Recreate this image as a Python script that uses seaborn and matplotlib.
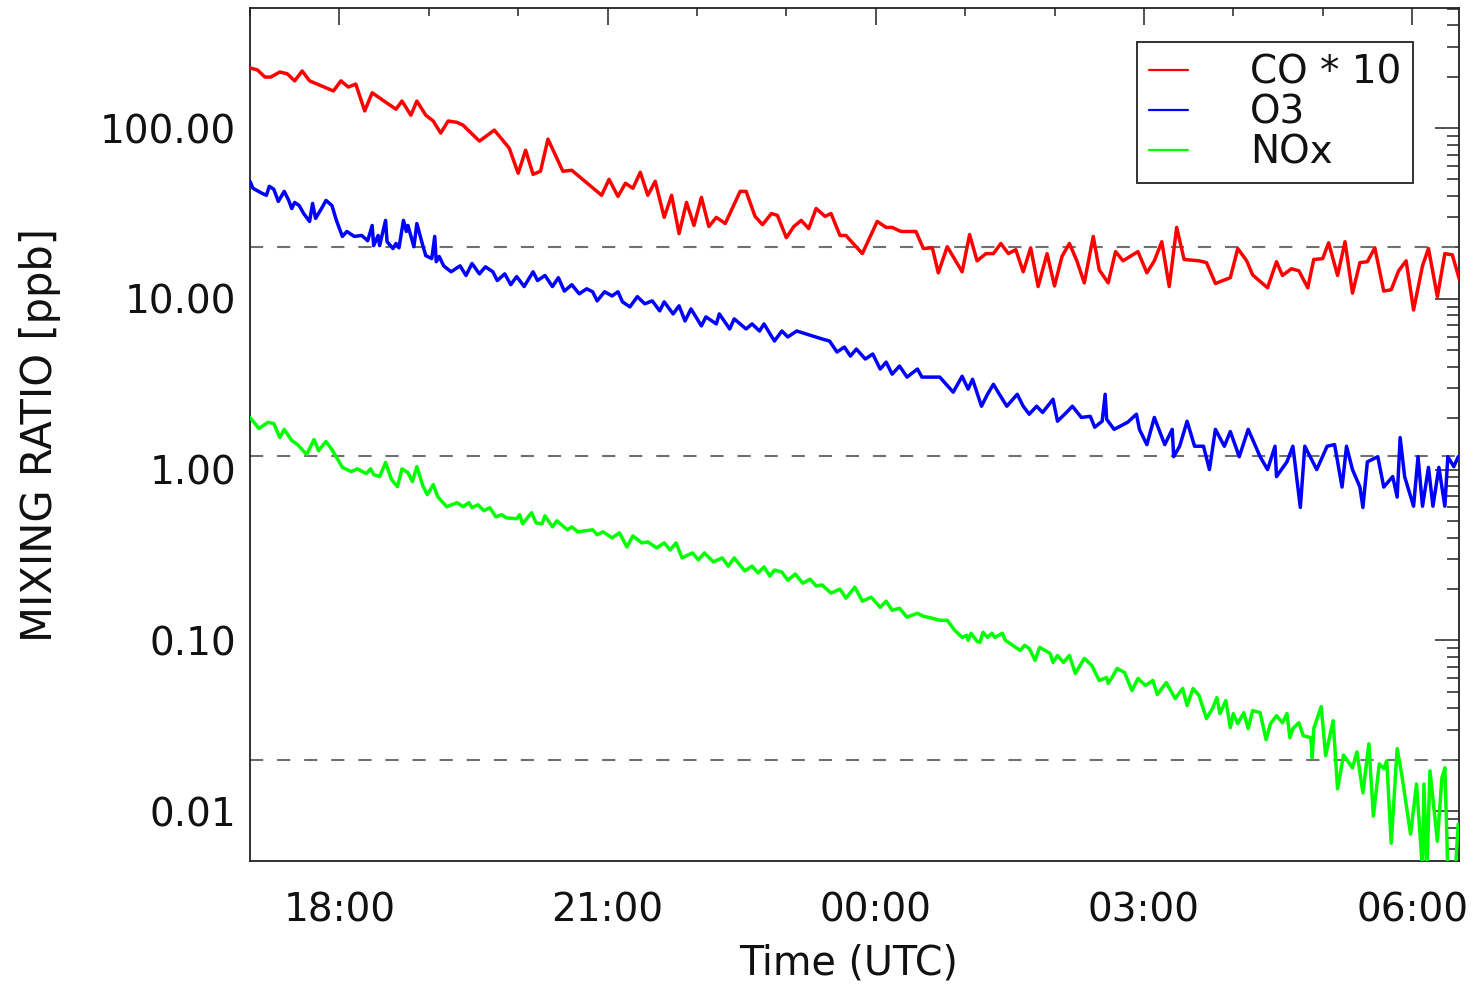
import numpy as np
import pandas as pd
import matplotlib
matplotlib.use("Agg")
import matplotlib.pyplot as plt
import matplotlib.dates as mdates
import matplotlib.ticker as mticker
from matplotlib.lines import Line2D
import seaborn as sns

# ---------------- data (minutes after 17:00 UTC, mixing ratio in ppb) ----------------
co_minutes = [0, 5, 10, 14, 20, 25, 30, 35, 40, 56,
              61, 66, 71, 77, 82, 87, 92, 98, 102, 108,
              112, 118, 123, 128, 133, 139, 143, 154, 164, 174,
              180, 185, 190, 195, 200, 210, 216, 236, 241, 247,
              252, 257, 262, 267, 272, 278, 283, 288, 293, 298,
              303, 308, 313, 319, 329, 333, 339, 344, 350, 354,
              360, 365, 370, 375, 380, 386, 390, 396, 400, 411,
              421, 427, 431, 437, 447, 452, 458, 462, 468, 478,
              483, 488, 494, 499, 504, 509, 514, 519, 524, 529,
              535, 540, 545, 550, 555, 560, 566, 570, 576, 581,
              586, 596, 602, 607, 612, 617, 622, 627, 637, 642,
              648, 658, 663, 669, 673, 683, 689, 693, 699, 704,
              710, 714, 720, 724, 730, 735, 740, 745, 750, 755,
              761, 766, 771, 776, 781, 787, 791, 797, 802, 807, 812]
co_x10 = [225, 219, 199, 199, 213, 208, 189, 216, 189, 165,
          189, 174, 181, 126, 161, 150, 140, 129, 144, 119,
          144, 119, 110, 93.5, 110, 108, 104, 83.9, 97.3, 76.3,
          54.4, 74.2, 53.6, 55.9, 86.2, 55.9, 56.6, 40.4, 50.1, 39.8,
          47.5, 44.4, 55.1, 40.4, 48.8, 30.0, 40.4, 24.1, 36.7, 26.9,
          39.3, 26.5, 30.0, 27.6, 42.6, 42.6, 30.4, 27.2, 31.6, 30.8,
          22.8, 26.5, 28.8, 25.8, 33.8, 30.4, 31.6, 23.5, 23.5, 18.4,
          28.4, 26.2, 26.2, 24.8, 24.8, 19.7, 19.9, 14.2, 20.2, 14.4,
          23.8, 16.7, 18.4, 18.4, 21.1, 18.4, 19.4, 14.4, 19.9, 11.8,
          18.4, 11.9, 17.7, 21.1, 16.7, 12.4, 23.2, 14.8, 12.4, 18.9,
          16.7, 18.9, 14.2, 16.7, 21.6, 11.8, 26.2, 17.0, 16.7, 16.3,
          12.3, 13.3, 19.7, 16.7, 13.8, 11.6, 16.5, 13.7, 15.0, 14.6,
          11.6, 17.0, 17.2, 21.3, 13.7, 21.6, 10.8, 16.3, 16.5, 19.9,
          11.1, 11.3, 14.6, 16.7, 8.6, 15.6, 19.7, 10.3, 18.4, 18.1, 12.8]

o3_minutes = [0, 2, 8, 11, 13, 16, 19, 23, 26, 28,
              30, 33, 36, 40, 42, 44, 48, 51, 55, 58,
              62, 65, 70, 75, 79, 82, 83, 86, 87, 91,
              92, 96, 98, 100, 103, 105, 106, 110, 112, 116,
              118, 122, 124, 125, 127, 130, 135, 141, 145, 149,
              154, 158, 163, 166, 171, 175, 179, 184, 190, 193,
              198, 203, 207, 211, 216, 221, 226, 230, 233, 238,
              243, 247, 250, 255, 260, 265, 270, 275, 278, 284,
              288, 292, 296, 303, 306, 313, 315, 322, 325, 333,
              337, 342, 345, 352, 357, 361, 367, 384, 389, 394,
              399, 403, 407, 413, 418, 423, 427, 431, 436, 441,
              448, 451, 463, 472, 478, 482, 485, 491, 495, 499,
              503, 508, 515, 519, 523, 528, 532, 539, 542, 548,
              552, 558, 564, 567, 572, 574, 575, 580, 589, 595,
              597, 602, 607, 614, 619, 620, 624, 629, 634, 640,
              644, 648, 654, 658, 664, 670, 678, 683, 688, 689,
              696, 700, 705, 708, 716, 723, 728, 733, 736, 740,
              745, 747, 750, 757, 761, 767, 770, 772, 775, 781,
              784, 787, 791, 794, 798, 802, 804, 808, 811]
o3_ppb = [48.8, 44.4, 41.5, 40.4, 45.6, 43.8, 37.2, 42.6, 37.7, 33.8,
          36.7, 35.2, 31.6, 28.4, 36.2, 29.6, 33.8, 37.7, 35.2, 28.8,
          23.2, 24.8, 23.2, 23.5, 21.9, 26.9, 20.5, 23.5, 20.5, 28.8,
          21.6, 19.7, 21.1, 19.9, 28.8, 24.8, 26.9, 20.2, 27.6, 20.5,
          17.9, 17.2, 23.2, 16.5, 17.7, 15.6, 14.4, 15.6, 13.7, 16.1,
          14.0, 15.4, 14.4, 12.8, 14.0, 12.1, 13.5, 11.8, 14.4, 12.8,
          13.7, 11.8, 13.3, 11.1, 12.1, 10.7, 11.45, 11.0, 9.73, 11.0,
          10.4, 11.0, 9.6, 8.97, 10.3, 9.35, 9.73, 8.5, 9.6, 8.16,
          9.1, 7.42, 8.73, 6.94, 7.84, 7.13, 8.16, 6.66, 7.63, 6.66,
          7.13, 6.48, 7.13, 5.66, 6.48, 5.98, 6.48, 5.82, 5.66, 4.88,
          5.22, 4.62, 5.08, 4.44, 4.75, 3.88, 4.26, 3.62, 4.04, 3.48,
          3.88, 3.48, 3.48, 2.84, 3.52, 2.96, 3.38, 2.35, 2.76, 3.16,
          2.76, 2.35, 2.76, 2.35, 2.11, 2.35, 2.16, 2.58, 1.92, 2.16,
          2.35, 2.02, 2.05, 1.77, 1.92, 2.76, 1.97, 1.72, 1.89, 2.11,
          1.72, 1.40, 2.02, 1.40, 1.72, 1.19, 1.37, 1.92, 1.37, 1.37,
          1.0, 1.72, 1.37, 1.67, 1.19, 1.72, 1.19, 1.0, 1.37, 0.91,
          1.11, 1.37, 0.60, 1.37, 1.0, 1.37, 1.40, 0.79, 1.37, 1.0,
          0.79, 0.60, 1.11, 1.19, 0.79, 0.91, 0.69, 1.54, 0.91, 0.61,
          1.19, 0.61, 1.03, 0.61, 1.03, 0.61, 1.19, 1.04, 1.19]

nox_minutes = [0, 6, 12, 16, 20, 23, 28, 32, 38, 43,
               46, 51, 55, 62, 68, 72, 78, 81, 83, 87,
               91, 95, 99, 102, 106, 109, 112, 116, 119, 123,
               126, 132, 139, 143, 147, 149, 153, 157, 161, 165,
               169, 172, 179, 181, 183, 189, 192, 196, 198, 203,
               206, 213, 216, 220, 230, 233, 237, 243, 248, 253,
               257, 263, 267, 273, 278, 282, 286, 290, 297, 301,
               305, 311, 317, 321, 325, 332, 337, 341, 345, 349,
               352, 357, 361, 366, 371, 376, 380, 384, 390, 396,
               400, 406, 411, 417, 423, 427, 431, 436, 441, 444,
               448, 452, 458, 463, 468, 473, 478, 481, 482, 484,
               488, 490, 492, 495, 498, 500, 505, 507, 512, 517,
               520, 523, 527, 530, 537, 539, 542, 546, 550, 554,
               560, 565, 570, 575, 576, 579, 582, 587, 592, 596,
               601, 606, 609, 615, 621, 626, 629, 633, 637, 642,
               646, 649, 651, 655, 658, 660, 663, 667, 670, 673,
               678, 682, 685, 689, 693, 696, 698, 700, 704, 707,
               712, 713, 714, 719, 722, 727, 730, 734, 740, 743,
               747, 751, 754, 758, 761, 763, 766, 770, 773, 779,
               783, 787, 788, 790, 792, 797, 800, 802, 804, 809, 811]
nox_ppb = [2.02, 1.74, 1.89, 1.86, 1.54, 1.72, 1.48, 1.40, 1.225, 1.50,
           1.29, 1.46, 1.31, 1.03, 0.973, 1.01, 0.947, 1.01, 0.935, 0.91,
           1.10, 0.873, 0.794, 1.01, 0.96, 0.85, 1.04, 0.805, 0.713, 0.816,
           0.694, 0.606, 0.64, 0.606, 0.64, 0.598, 0.622, 0.574, 0.598, 0.529,
           0.544, 0.522, 0.515, 0.544, 0.481, 0.559, 0.488, 0.481, 0.536, 0.462,
           0.501, 0.444, 0.462, 0.432, 0.444, 0.415, 0.432, 0.398, 0.426, 0.352,
           0.409, 0.372, 0.377, 0.348, 0.372, 0.338, 0.372, 0.304, 0.325, 0.296,
           0.325, 0.288, 0.304, 0.272, 0.304, 0.255, 0.272, 0.248, 0.269, 0.238,
           0.258, 0.251, 0.225, 0.2445, 0.216, 0.228, 0.208, 0.211, 0.189, 0.1995,
           0.1766, 0.205, 0.1696, 0.179, 0.156, 0.1696, 0.150, 0.154, 0.1366, 0.140,
           0.144, 0.1384, 0.1347, 0.131, 0.131, 0.1145, 0.104, 0.107, 0.1, 0.11,
           0.0987, 0.0973, 0.1115, 0.104, 0.11, 0.104, 0.11, 0.1, 0.0935, 0.0873,
           0.0935, 0.0897, 0.0763, 0.091, 0.0839, 0.0742, 0.0816, 0.0742, 0.0816, 0.064,
           0.0784, 0.0713, 0.0582, 0.0606, 0.0559, 0.0614, 0.0684, 0.0648, 0.0508, 0.0598,
           0.0544, 0.0582, 0.0481, 0.0566, 0.0456, 0.0522, 0.0415, 0.0522, 0.0475, 0.0348,
           0.0398, 0.0462, 0.0372, 0.0444, 0.0308, 0.0372, 0.0325, 0.0377, 0.0304, 0.0388,
           0.0377, 0.0262, 0.0325, 0.0362, 0.0329, 0.0372, 0.0269, 0.0304, 0.0329, 0.0276,
           0.0269, 0.0205, 0.0304, 0.0409, 0.0211, 0.0338, 0.0135, 0.0213, 0.0179, 0.0222,
           0.01276, 0.0248, 0.00935, 0.0189, 0.0177, 0.0197, 0.00648, 0.0232, 0.0165, 0.00732,
           0.0144, 0.0045, 0.0144, 0.0045, 0.0172, 0.00666, 0.0156, 0.0179, 0.0045, 0.0045, 0.00839]

ref_levels = [20, 1.2, 0.02]
series_labels = ["CO * 10", "O3", "NOx"]
series_colors = ["#ff0000", "#0000ff", "#00ff00"]
y_ticks = [0.01, 0.1, 1, 10, 100]
x_major_hours = [0, 3, 6, 18, 21]

assert len(co_minutes) == len(co_x10)
assert len(o3_minutes) == len(o3_ppb)
assert len(nox_minutes) == len(nox_ppb)

# ---------------- styling ----------------
sns.set_style("white")
plt.rcParams["font.family"] = ["DejaVu Sans"]
plt.rcParams["lines.scale_dashes"] = False

base = pd.Timestamp("2000-01-01 17:00")


def frame(minutes, values):
    return pd.DataFrame({"time": base + pd.to_timedelta(minutes, unit="m"),
                         "value": values})


W, H = 1476, 989
fig = plt.figure(figsize=(W / 100, H / 100), dpi=100)
L, R, T, B = 250, 1459, 8, 861
ax = fig.add_axes([L / W, 1 - B / H, (R - L) / W, (B - T) / H])

for lvl in ref_levels:
    ax.axhline(lvl, color="#707070", lw=1.5, dashes=(9.5, 10), zorder=1)

datasets = [(co_minutes, co_x10), (o3_minutes, o3_ppb), (nox_minutes, nox_ppb)]
for (mins, vals), col in zip(datasets, series_colors):
    sns.lineplot(data=frame(mins, vals), x="time", y="value", ax=ax,
                 color=col, lw=2.5, estimator=None, sort=False, zorder=3)

ax.set_yscale("log")
ax.set_ylim(0.0051, 505)
ax.set_xlim(base, base + pd.Timedelta(minutes=811.5))

ax.yaxis.set_major_locator(mticker.FixedLocator(y_ticks))
ax.yaxis.set_major_formatter(mticker.FormatStrFormatter("%.2f"))
ax.yaxis.set_minor_locator(mticker.LogLocator(base=10, subs=np.arange(2, 10)))
ax.yaxis.set_minor_formatter(mticker.NullFormatter())

ax.xaxis.set_major_locator(mdates.HourLocator(byhour=x_major_hours))
ax.xaxis.set_major_formatter(mdates.DateFormatter("%H:%M"))
ax.xaxis.set_minor_locator(mdates.HourLocator(interval=1))

ax.tick_params(which="both", direction="in", top=True, right=True,
               color="#222222", width=1.1, labelsize=28, labelcolor="#111111")
ax.tick_params(axis="y", which="major", length=17, pad=10)
ax.tick_params(axis="y", which="minor", length=9)
ax.tick_params(axis="x", which="major", length=12, pad=22)
ax.tick_params(axis="x", which="minor", length=6)

for sp in ax.spines.values():
    sp.set_color("#222222")
    sp.set_linewidth(1.3)

ax.set_xlabel("Time (UTC)", fontsize=28.5, color="#111111")
ax.set_ylabel("MIXING RATIO [ppb]", fontsize=30, color="#111111")
ax.xaxis.set_label_coords(0.495, -0.097)
ax.yaxis.set_label_coords(-0.156, 0.5)

handles = [Line2D([0], [0], color=c, lw=1.6) for c in series_colors]
leg = ax.legend(handles, series_labels, loc="upper right",
                bbox_to_anchor=((1413 - L) / (R - L), 1 - (42 - T) / (B - T)),
                borderaxespad=0, fontsize=28, frameon=True, fancybox=False,
                framealpha=1, edgecolor="#222222", handlelength=1.0,
                handletextpad=1.6, labelspacing=0.05, borderpad=0.3,
                handleheight=0.7)
leg.get_frame().set_linewidth(1.3)
for t in leg.get_texts():
    t.set_color("#111111")

fig.savefig("out.png", dpi=100)
